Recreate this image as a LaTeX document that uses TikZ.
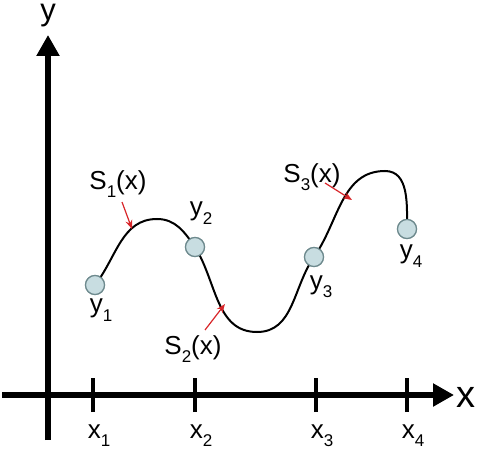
\documentclass[tikz,border=0pt]{standalone}
\usepackage{fontspec}
\setmainfont{Liberation Sans}
\usetikzlibrary{arrows.meta}
\definecolor{ptfill}{HTML}{C8DDE1}
\definecolor{ptdraw}{HTML}{6E8A8E}
\definecolor{redarr}{HTML}{D8262A}
\newcommand{\lbl}[3]{#1\raisebox{-0.32em}{\fontsize{17}{17}\selectfont #2}#3}
\tikzset{
  axis/.style={line width=5.5pt,-{Triangle[length=21pt,width=22pt]}},
  tick/.style={line width=4pt},
  pt/.style={circle,fill=ptfill,draw=ptdraw,line width=1.2pt,minimum size=19pt,inner sep=0pt},
  curve/.style={line width=2pt},
  redar/.style={draw=redarr,line width=1.2pt,-{Stealth[length=9pt,width=7pt]}},
  txt/.style={font=\fontsize{26}{26}\selectfont,inner sep=0pt},
  bigtxt/.style={font=\fontsize{38}{38}\selectfont,inner sep=0pt},
  ytxt/.style={font=\fontsize{31}{31}\selectfont,inner sep=0pt,text height=17pt,text depth=7pt}
}
\begin{document}
\begin{tikzpicture}[x=1pt,y=1pt]
\useasboundingbox (0,0) rectangle (478,450);
% axes
\coordinate (yb) at (48,10);
\coordinate (yt) at (48,415);
\coordinate (xl) at (2,55);
\coordinate (xr) at (454,55);
\draw[axis] (yb) -- (yt);
\draw[axis] (xl) -- (xr);
\node[ytxt,anchor=base] (ylab) at (48,429) {y};
\node[bigtxt,anchor=base] (xlab) at (466,43) {x};
% ticks
\foreach \i/\x in {1/93,2/195,3/316,4/407}{
  \coordinate (t\i a) at (\x,38);
  \coordinate (t\i b) at (\x,72);
  \draw[tick] (t\i a) -- (t\i b);
  \node[txt,anchor=base] (xl\i) at (\x+6,12) {\lbl{x}{\i}{}};
}
% points
\node[pt] (p1) at (95,165) {};
\node[pt] (p2) at (195,203) {};
\node[pt] (p3) at (314,193) {};
\node[pt] (p4) at (407,221) {};
\coordinate (m1) at (157,231);
\coordinate (m2) at (257,118);
\coordinate (m3) at (385,279);
\draw[curve] (p1.center) to[out=52,in=180] (m1) to[out=0,in=125] (p2.center)
  to[out=-58,in=180] (m2) to[out=0,in=235] (p3.center)
  to[out=55,in=180] (m3) to[out=0,in=90] (p4.center);
\node[pt] at (p1) {};
\node[pt] at (p2) {};
\node[pt] at (p3) {};
\node[pt] at (p4) {};
% point labels
\node[txt] (y1) at (101,140) {\lbl{y}{1}{}};
\node[txt] (y2) at (201,237) {\lbl{y}{2}{}};
\node[txt] (y3) at (321,163) {\lbl{y}{3}{}};
\node[txt] (y4) at (411,194) {\lbl{y}{4}{}};
% spline labels
\node[txt] (s1) at (118,266) {\lbl{S}{1}{(x)}};
\node[txt] (s2) at (193,101) {\lbl{S}{2}{(x)}};
\node[txt] (s3) at (312,273) {\lbl{S}{3}{(x)}};
\coordinate (a1) at (132,221);
\coordinate (a2) at (225,146);
\coordinate (a3) at (352,250);
\draw[redar] (122,248) -- (a1);
\draw[redar] (205,120) -- (a2);
\draw[redar] (325,267) -- (a3);
\end{tikzpicture}
\end{document}
